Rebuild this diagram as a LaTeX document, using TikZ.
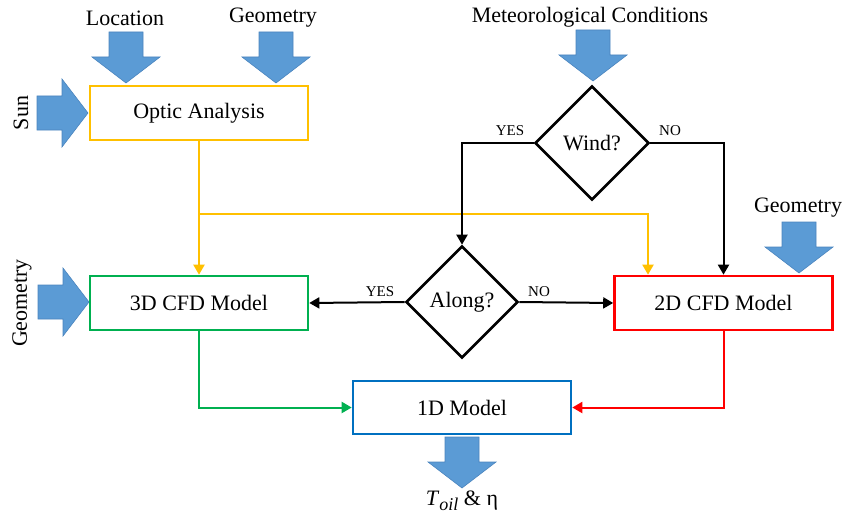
\documentclass[tikz,border=0pt]{standalone}
\usepackage{fontspec}
\setmainfont{Liberation Serif}
\usetikzlibrary{shapes.geometric,arrows.meta}
\definecolor{cOrange}{HTML}{FFC000}
\definecolor{cGreen}{HTML}{00B050}
\definecolor{cRed}{HTML}{FF0000}
\definecolor{cBlue}{HTML}{0070C0}
\definecolor{cArrow}{HTML}{5B9BD5}
\definecolor{cArrowEdge}{HTML}{4A84BE}
\newcommand{\bigfont}{\fontsize{22}{26}\selectfont}
\newcommand{\smallfont}{\fontsize{15}{18}\selectfont}
\tikzset{
  box/.style={draw, line width=2.6pt, minimum width=218pt, minimum height=54pt, fill=white, inner sep=0pt, font=\bigfont},
  decision/.style={draw, diamond, aspect=1, line width=2.6pt, minimum width=114pt, minimum height=114pt, inner sep=0pt, font=\bigfont},
  conn/.style={line width=2pt, -{Triangle[length=10pt,width=11pt]}},
  lbl/.style={font=\bigfont, inner sep=0pt},
  slbl/.style={font=\smallfont, inner sep=0pt},
  downarr/.pic={\filldraw[fill=cArrow, draw=cArrowEdge, line width=0.6pt] (0,0) -- (-34,-26) -- (-17,-26) -- (-17,-51) -- (17,-51) -- (17,-26) -- (34,-26) -- cycle;},
  rightarr/.pic={\filldraw[fill=cArrow, draw=cArrowEdge, line width=0.6pt] (0,0) -- (-26,-34) -- (-26,-17) -- (-51,-17) -- (-51,17) -- (-26,17) -- (-26,34) -- cycle;}
}
\begin{document}
\begin{tikzpicture}[x=1pt, y=-1pt]
\useasboundingbox (0,0) rectangle (845,516);
% block arrows
\pic at (126,83) {downarr};
\pic at (276,83) {downarr};
\pic at (88,113) {rightarr};
\pic at (89,302) {rightarr};
\pic at (593,81) {downarr};
\pic at (799,273) {downarr};
\pic at (462,488) {downarr};
% texts
\node[lbl] (tloc) at (125,18) {Location};
\node[lbl] (tgeo1) at (273,18) {Geometry};
\node[lbl] (tmet) at (590,17) {Meteorological Conditions};
\node[lbl] (tgeo3) at (798,208) {Geometry};
\node[lbl, rotate=90] (tsun) at (21,113) {Sun};
\node[lbl, rotate=90] (tgeo2) at (22,303) {Geometry};
\node[lbl] (tout) at (462,501) {\textit{T}\raisebox{-0.4ex}{\fontsize{18}{20}\selectfont\textit{oil}} \& η};
% nodes
\node[box, draw=cOrange] (optic) at (199,113) {Optic Analysis};
\node[box, draw=cGreen] (cfd3) at (199,303) {3D CFD Model};
\node[box, draw=cRed] (cfd2) at (723.5,303) {2D CFD Model};
\node[box, draw=cBlue, minimum height=53pt] (oned) at (462,407.5) {1D Model};
\node[decision] (wind) at (592,143) {Wind?};
\node[decision, minimum width=112pt, minimum height=112pt] (along) at (462,302) {Along?};
% connectors
\coordinate (split) at (199,214);
\draw[conn, color=cOrange] (optic) -- (cfd3);
\draw[conn, color=cOrange] (split) -| ([xshift=-75.5pt]cfd2.north);
\draw[conn] (wind.west) -| (along.north);
\draw[conn] (wind.east) -| (cfd2.north);
\draw[conn] (along.west) -- (cfd3.east);
\draw[conn] (along.east) -- (cfd2.west);
\draw[conn, color=cGreen] (cfd3.south) |- (oned.west);
\draw[conn, color=cRed] (cfd2.south) |- (oned.east);
% labels
\node[slbl] (lyes1) at (510,131) {YES};
\node[slbl] (lno1) at (670,131) {NO};
\node[slbl] (lyes2) at (380,292) {YES};
\node[slbl] (lno2) at (539,292) {NO};
\end{tikzpicture}
\end{document}
